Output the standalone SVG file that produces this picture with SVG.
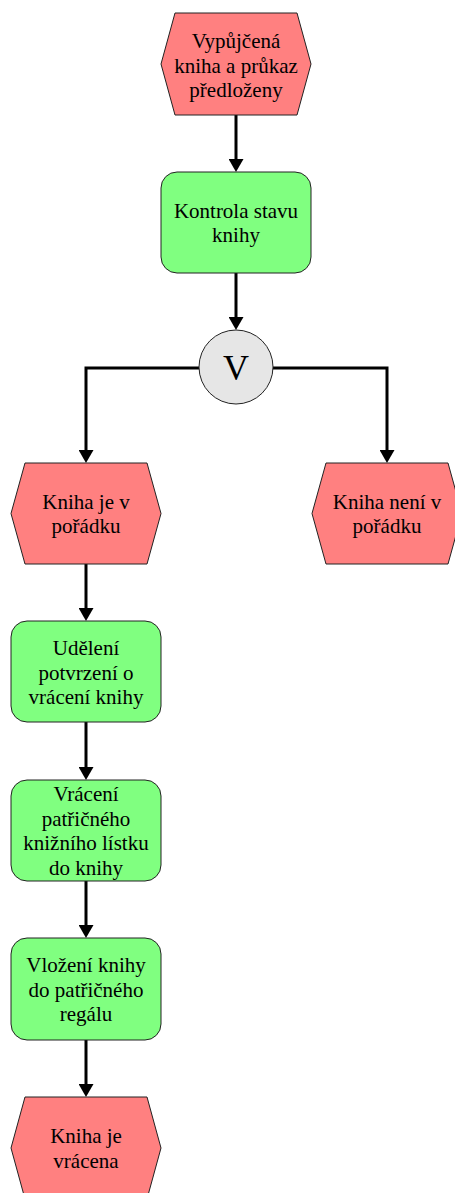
<svg xmlns="http://www.w3.org/2000/svg" width="455" height="1193" viewBox="0 0 455 1193">
<style>
.ev{fill:#FF8080;stroke:#222;stroke-width:1}
.fn{fill:#80FF80;stroke:#222;stroke-width:1}
.op{fill:#E6E6E6;stroke:#222;stroke-width:1}
.t{font-family:"Liberation Serif","Times New Roman",serif;font-size:21px;fill:#000;text-anchor:middle}
.v{font-family:"Liberation Serif","Times New Roman",serif;font-size:36px;fill:#000;text-anchor:middle}
.c{fill:none;stroke:#000;stroke-width:3}
</style>
<defs>
<marker id="ah" viewBox="0 0 13 15" refX="0" refY="7.5" markerWidth="13" markerHeight="15" markerUnits="userSpaceOnUse" orient="auto">
<path d="M0,0 L13,7.5 L0,15 z" fill="#000"/>
</marker>
</defs>
<g id="connectors">
<path class="c" d="M236,115 V159" marker-end="url(#ah)"/>
<path class="c" d="M236,273 V317" marker-end="url(#ah)"/>
<path class="c" d="M199,368 H86 V450" marker-end="url(#ah)"/>
<path class="c" d="M273,368 H387 V450" marker-end="url(#ah)"/>
<path class="c" d="M86,564 V608" marker-end="url(#ah)"/>
<path class="c" d="M86,722 V767" marker-end="url(#ah)"/>
<path class="c" d="M86,881 V925" marker-end="url(#ah)"/>
<path class="c" d="M86,1040 V1084" marker-end="url(#ah)"/>
</g>
<g id="n1">
<polygon class="ev" points="161,64 175,13 297,13 311,64 297,115 175,115"/>
<text class="t" x="236" y="48">Vypůjčená</text>
<text class="t" x="236" y="72.5">kniha a průkaz</text>
<text class="t" x="236" y="97">předloženy</text>
</g>
<g id="n2">
<rect class="fn" x="161" y="172" width="150" height="101" rx="16"/>
<text class="t" x="236" y="217.5">Kontrola stavu</text>
<text class="t" x="236" y="242">knihy</text>
</g>
<g id="n3">
<circle class="op" cx="236" cy="367" r="37"/>
<text class="v" x="236" y="380">V</text>
</g>
<g id="n4">
<polygon class="ev" points="11,513.5 25,463 147,463 161,513.5 147,564 25,564"/>
<text class="t" x="86" y="508.5">Kniha je v</text>
<text class="t" x="86" y="533">pořádku</text>
</g>
<g id="n5">
<polygon class="ev" points="312,513.5 326,463 448,463 462,513.5 448,564 326,564"/>
<text class="t" x="387" y="508.5">Kniha není v</text>
<text class="t" x="387" y="533">pořádku</text>
</g>
<g id="n6">
<rect class="fn" x="11" y="621" width="150" height="101" rx="16"/>
<text class="t" x="86" y="655">Udělení</text>
<text class="t" x="86" y="679.5">potvrzení o</text>
<text class="t" x="86" y="704">vrácení knihy</text>
</g>
<g id="n7">
<rect class="fn" x="11" y="780" width="150" height="101" rx="16"/>
<text class="t" x="86" y="801">Vrácení</text>
<text class="t" x="86" y="825.5">patřičného</text>
<text class="t" x="86" y="850">knižního lístku</text>
<text class="t" x="86" y="874.5">do knihy</text>
</g>
<g id="n8">
<rect class="fn" x="11" y="938" width="150" height="102" rx="16"/>
<text class="t" x="86" y="972">Vložení knihy</text>
<text class="t" x="86" y="996.5">do patřičného</text>
<text class="t" x="86" y="1021">regálu</text>
</g>
<g id="n9">
<polygon class="ev" points="11,1148 25,1097 147,1097 161,1148 147,1199 25,1199"/>
<text class="t" x="86" y="1143">Kniha je</text>
<text class="t" x="86" y="1167.5">vrácena</text>
</g>
</svg>
